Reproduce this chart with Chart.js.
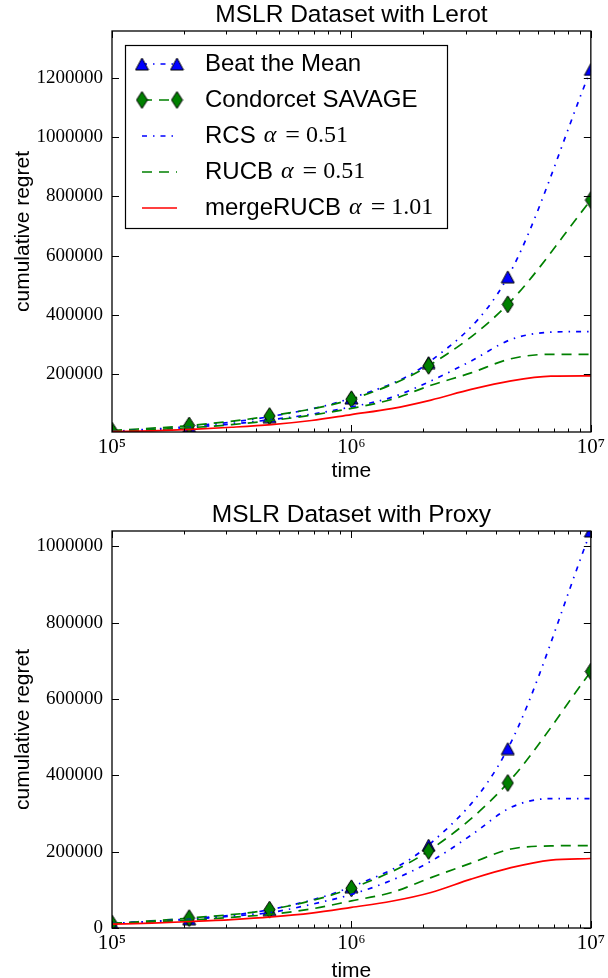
<!DOCTYPE html>
<html><head><meta charset="utf-8">
<script src="https://cdn.jsdelivr.net/npm/chart.js@4.4.0/dist/chart.umd.min.js"></script>
<style>
html,body{margin:0;padding:0;background:#fff;overflow:hidden;width:608px;height:978px;}
.wrap{position:absolute;left:0;width:608px;}
</style></head><body>
<div class="wrap" style="top:0;height:489px"><canvas id="c1" width="608" height="489"></canvas></div>
<div class="wrap" style="top:489px;height:500px"><canvas id="c2" width="608" height="500"></canvas></div>
<script>
// ---- data ----
const markerTimes = [1e5, 2.1e5, 4.55e5, 1e6, 2.1e6, 4.5e6, 1e7];
const curveTimes = [1e5, 1.47e5, 2.15e5, 3.16e5, 4.64e5, 6.81e5, 1e6, 1.47e6, 2.15e6, 3.16e6, 4.64e6, 6.81e6, 1e7];

const lerotBeatTheMean = [5000, 22000, 55000, 118000, 238000, 528000, 1230000];
const lerotSavage      = [8000, 25000, 57000, 114000, 227000, 435000, 788000];
const lerotRCS   = [5000, 11000, 19000, 30000, 45000, 63000, 88000, 120000, 176000, 243000, 316000, 341000, 343000];
const lerotRUCB  = [5000, 11000, 18000, 28000, 42000, 60000, 83000, 113000, 161000, 203000, 251000, 266000, 266000];
const lerotMerge = [4000, 7000, 12000, 19000, 28000, 42000, 62000, 82000, 111000, 147000, 176000, 192000, 193000];

const proxyBeatTheMean = [12000, 24000, 48000, 108000, 217000, 470000, 1040000];
const proxySavage      = [12000, 26000, 48000, 104000, 202000, 380000, 672000];
const proxyRCS   = [12000, 17000, 23000, 31000, 41000, 62000, 88000, 125000, 175000, 243000, 316000, 339000, 339000];
const proxyRUCB  = [12000, 16000, 21000, 28000, 36000, 50000, 71000, 93000, 132000, 170000, 207000, 215000, 216000];
const proxyMerge = [10000, 13000, 17000, 22000, 29000, 39000, 54000, 70000, 93000, 128000, 158000, 178000, 182000];

const seriesLabels = ['Beat the Mean', 'Condorcet SAVAGE', 'RCS', 'RUCB', 'mergeRUCB'];
const seriesAlpha  = [null, null, '0.51', '0.51', '1.01'];

const xMajorTicks = [1e5, 1e6, 1e7];
const xMinorMultipliers = [2, 3, 4, 5, 6, 7, 8, 9];
const yTicksTop = [200000, 400000, 600000, 800000, 1000000, 1200000];
const yTicksBottom = [0, 200000, 400000, 600000, 800000, 1000000];

// ---- styles ----
const BLUE = '#0000ff', GREEN = '#008000', RED = '#ff0000';
const DASHDOT = [5, 6, 1.5, 6];
const DASHED = [10, 7];

function makeTriangle() {
  const c = document.createElement('canvas'); c.width = 15; c.height = 14;
  const g = c.getContext('2d');
  g.beginPath(); g.moveTo(7.5, 1); g.lineTo(14, 13); g.lineTo(1, 13); g.closePath();
  g.fillStyle = BLUE; g.fill(); g.lineWidth = 1; g.strokeStyle = '#000'; g.stroke();
  return c;
}
function makeDiamond() {
  const c = document.createElement('canvas'); c.width = 13; c.height = 19;
  const g = c.getContext('2d');
  g.beginPath(); g.moveTo(6.5, 1); g.lineTo(12, 9.5); g.lineTo(6.5, 18); g.lineTo(1, 9.5); g.closePath();
  g.fillStyle = GREEN; g.fill(); g.lineWidth = 1; g.strokeStyle = '#000'; g.stroke();
  return c;
}
const TRI = makeTriangle();
const DIA = makeDiamond();

Chart.defaults.font.family = '"Liberation Sans", Arial, sans-serif';
Chart.defaults.color = '#000';

const pts = (xs, ys) => xs.map((x, i) => ({x, y: ys[i]}));

const framePlugin = {
  id: 'frame',
  afterDatasetsDraw(chart) {
    const {ctx, chartArea: a, scales: {x, y}} = chart;
    ctx.save();
    ctx.strokeStyle = '#000';
    ctx.lineWidth = 1;
    const seg = (x1, y1, x2, y2) => { ctx.beginPath(); ctx.moveTo(x1, y1); ctx.lineTo(x2, y2); ctx.stroke(); };
    xMajorTicks.forEach(v => {
      const px = Math.round(x.getPixelForValue(v)) + 0.5;
      seg(px, a.bottom, px, a.bottom - 7); seg(px, a.top, px, a.top + 7);
      if (v < 1e7) xMinorMultipliers.forEach(m => {
        const qx = Math.round(x.getPixelForValue(v * m)) + 0.5;
        seg(qx, a.bottom, qx, a.bottom - 3.5); seg(qx, a.top, qx, a.top + 3.5);
      });
    });
    y.ticks.forEach(t => {
      const py = Math.round(y.getPixelForValue(t.value)) + 0.5;
      seg(a.left, py, a.left + 7, py); seg(a.right, py, a.right - 7, py);
    });
    ctx.lineWidth = 1.3;
    ctx.strokeRect(a.left, a.top, a.right - a.left, a.bottom - a.top);
    ctx.restore();
  }
};

const legendPlugin = {
  id: 'richLegend',
  afterDraw(chart, args, opts) {
    if (!opts.show) return;
    const {ctx, chartArea: a} = chart;
    const bx = a.left + 13, by = a.top + 14, bw = 322, bh = 183;
    ctx.save();
    ctx.fillStyle = '#fff'; ctx.fillRect(bx, by, bw, bh);
    ctx.strokeStyle = '#000'; ctx.lineWidth = 1.2; ctx.strokeRect(bx + 0.5, by + 0.5, bw, bh);
    chart.data.datasets.forEach((ds, i) => {
      const yy = by + 19 + 36 * i;
      ctx.save();
      ctx.strokeStyle = ds.borderColor; ctx.lineWidth = ds.borderWidth;
      ctx.setLineDash(ds.borderDash || []);
      ctx.beginPath(); ctx.moveTo(bx + 17, yy); ctx.lineTo(bx + 52, yy); ctx.stroke();
      ctx.restore();
      if (ds.pointRadius > 0 && ds.pointStyle instanceof HTMLCanvasElement) {
        const im = ds.pointStyle;
        [bx + 17, bx + 52].forEach(px => ctx.drawImage(im, px - im.width / 2, yy - im.height / 2));
      }
      let tx = bx + 80;
      ctx.fillStyle = '#000'; ctx.textBaseline = 'middle'; ctx.textAlign = 'left';
      ctx.font = '24px "Liberation Sans"';
      ctx.fillText(ds.label, tx, yy);
      tx += ctx.measureText(ds.label).width;
      const al = seriesAlpha[i];
      if (al) {
        tx += 8;
        ctx.font = 'italic 24px "Liberation Serif"';
        ctx.fillText('α', tx, yy); tx += ctx.measureText('α').width + 9;
        ctx.font = '26px "Liberation Serif"';
        ctx.fillText('=', tx, yy); tx += ctx.measureText('=').width + 6;
        ctx.font = '24px "Liberation Serif"';
        ctx.fillText(al, tx, yy);
      }
    });
    ctx.restore();
  }
};

const SUP = {5: '⁵', 6: '⁶', 7: '⁷'};

function makeChart(id, title, titlePad, ymin, ymax, yTicks, xAxisHeight, showLegend, btm, sav, rcs, rucb, merge) {
  const common = {borderWidth: 1.7, cubicInterpolationMode: 'monotone', fill: false};
  return new Chart(document.getElementById(id), {
    type: 'line',
    data: {
      datasets: [
        {...common, label: seriesLabels[0], data: pts(markerTimes, btm), borderColor: BLUE, borderDash: DASHDOT,
          pointStyle: TRI, pointRadius: 7, order: 4},
        {...common, label: seriesLabels[1], data: pts(markerTimes, sav), borderColor: GREEN, borderDash: DASHED,
          pointStyle: DIA, pointRadius: 7, order: 3},
        {...common, label: seriesLabels[2], data: pts(curveTimes, rcs), borderColor: BLUE, borderDash: DASHDOT,
          pointRadius: 0, order: 2},
        {...common, label: seriesLabels[3], data: pts(curveTimes, rucb), borderColor: GREEN, borderDash: DASHED,
          pointRadius: 0, order: 1},
        {...common, label: seriesLabels[4], data: pts(curveTimes, merge), borderColor: RED,
          pointRadius: 0, order: 0}
      ]
    },
    options: {
      responsive: false,
      animation: false,
      events: [],
      layout: {padding: {left: 0, right: 15, top: 0, bottom: 0}},
      scales: {
        x: {
          type: 'logarithmic', min: 1e5, max: 1e7,
          afterBuildTicks: s => { s.ticks = xMajorTicks.map(v => ({value: v, major: true})); },
          afterFit: s => { s.height = xAxisHeight; },
          grid: {display: false, drawTicks: false},
          border: {display: false},
          ticks: {
            autoSkip: false, maxRotation: 0, padding: 3,
            font: {family: '"Liberation Serif"', size: 21},
            callback: v => '10' + SUP[Math.round(Math.log10(v))]
          },
          title: {display: true, text: 'time', font: {size: 21}, padding: {top: 0, bottom: 5}}
        },
        y: {
          type: 'linear', min: ymin, max: ymax,
          afterBuildTicks: s => { s.ticks = yTicks.map(v => ({value: v})); },
          afterFit: s => { s.width = 112; },
          grid: {display: false, drawTicks: false},
          border: {display: false},
          ticks: {padding: 9, font: {family: '"Liberation Serif"', size: 19}, callback: v => String(v)},
          title: {display: true, text: 'cumulative regret', font: {size: 21}, padding: {top: 11, bottom: 0}}
        }
      },
      plugins: {
        legend: {display: false},
        tooltip: {enabled: false},
        title: {display: true, text: title, fullSize: false, font: {size: 24.5, weight: 'normal'},
          color: '#000', padding: titlePad},
        richLegend: {show: showLegend}
      }
    },
    plugins: [framePlugin, legendPlugin]
  });
}

makeChart('c1', 'MSLR Dataset with Lerot', {top: 1, bottom: 0.6}, 3000, 1360000, yTicksTop, 57, true,
  lerotBeatTheMean, lerotSavage, lerotRCS, lerotRUCB, lerotMerge);
makeChart('c2', 'MSLR Dataset with Proxy', {top: 12, bottom: 0.6}, 0, 1040000, yTicksBottom, 61, false,
  proxyBeatTheMean, proxySavage, proxyRCS, proxyRUCB, proxyMerge);
</script>
</body></html>
